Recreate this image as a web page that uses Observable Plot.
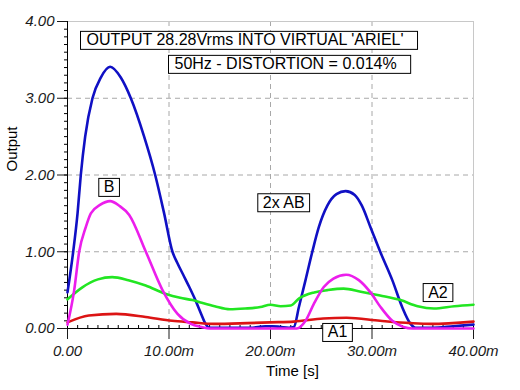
<!DOCTYPE html>
<html>
<head>
<meta charset="utf-8">
<script src="https://cdn.jsdelivr.net/npm/d3@7"></script>
<script src="https://cdn.jsdelivr.net/npm/@observablehq/plot@0.6"></script>
<style>
  html, body { margin: 0; padding: 0; background: white; }
</style>
</head>
<body>
<script>
// ---- data (time in ms, output values) ----
const blueT = [0, 0.56, 0.99, 1.31, 1.74, 2.46, 3.28, 4.2, 5.25, 6.24, 7.55, 8.64, 9.52, 10.34, 10.8, 11.4, 12.0, 12.6, 13.2, 13.6, 14.0, 16, 18, 19.5, 20.2, 21, 21.8, 22.3, 22.8, 23.45, 24.1, 24.76, 25.6, 26.5, 27.4, 28.3, 29.0, 29.85, 30.84, 32.0, 32.97, 33.8, 34.3, 36, 38, 40];
const blueV = [0.47, 1.0, 1.5, 2.0, 2.5, 3.0, 3.27, 3.41, 3.27, 3.0, 2.5, 2.0, 1.5, 1.0, 0.86, 0.70, 0.54, 0.37, 0.18, 0.06, 0.01, 0.01, 0.01, 0.03, 0.03, 0.02, 0.01, 0.02, 0.28, 0.63, 0.99, 1.32, 1.60, 1.75, 1.79, 1.74, 1.60, 1.32, 0.99, 0.63, 0.28, 0.06, 0.01, 0.01, 0.03, 0.05];

const magT = [0, 0.66, 1.15, 1.8, 2.3, 3.2, 4.2, 5.1, 6.08, 7.72, 9.36, 10.84, 12.15, 13.2, 14.0, 22.6, 23.45, 24.27, 25.25, 26.2, 27.45, 28.7, 29.85, 30.84, 32.0, 33.1, 34, 40];
const magV = [0.05, 0.5, 1.0, 1.32, 1.5, 1.61, 1.66, 1.6, 1.48, 1.0, 0.5, 0.19, 0.06, 0.02, 0.0, 0.0, 0.10, 0.32, 0.54, 0.65, 0.70, 0.63, 0.47, 0.28, 0.10, 0.02, 0.0, 0.0];

const greenT = [0, 1.5, 3, 4.4, 6, 7.7, 9.7, 11.1, 12.3, 13.1, 14.5, 16, 17.5, 19, 20, 21, 22, 22.8, 24.3, 25.6, 27.2, 28.9, 30.8, 32.8, 34.5, 36.1, 38.1, 40];
const greenV = [0.38, 0.54, 0.64, 0.67, 0.63, 0.56, 0.45, 0.40, 0.37, 0.34, 0.29, 0.25, 0.26, 0.28, 0.31, 0.29, 0.30, 0.39, 0.47, 0.50, 0.52, 0.48, 0.43, 0.37, 0.29, 0.26, 0.29, 0.31];

const redT = [0, 2.1, 4.8, 7.7, 10.3, 12.3, 14.4, 17.7, 20, 22.3, 25.2, 27.5, 30.8, 33.8, 35.8, 40];
const redV = [0.08, 0.17, 0.19, 0.15, 0.10, 0.08, 0.06, 0.07, 0.08, 0.09, 0.13, 0.14, 0.10, 0.07, 0.06, 0.09];

const labelText = ["B", "2x AB", "A1", "A2"];
const labelT = [4.1, 21.3, 26.6, 36.5];
const labelY = [1.84, 1.64, -0.05, 0.47];

const title1 = "OUTPUT 28.28Vrms INTO VIRTUAL 'ARIEL'";
const title2 = "50Hz - DISTORTION = 0.014%";

const xTicks = [0, 10, 20, 30, 40];
const xTickLabels = ["0.00", "10.00m", "20.00m", "30.00m", "40.00m"];
const xMinor = d3.range(0, 41, 1);
const yTicks = [0, 1, 2, 3, 4];
const yTickLabels = ["0.00", "1.00", "2.00", "3.00", "4.00"];
const yMinor = d3.range(0, 41, 1).map(d => d / 10);
const xGrid = [10, 20, 30];
const yGrid = [1, 2, 3];

const series = [
  {t: blueT, v: blueV, color: "#1010c4"},
  {t: greenT, v: greenV, color: "#22e622"},
  {t: redT, v: redV, color: "#dc1414"},
  {t: magT, v: magV, color: "#ec1eec"}
];

const labels = labelText.map((s, i) => ({s, t: labelT[i], y: labelY[i]}));

const chart = Plot.plot({
  width: 520,
  height: 390,
  marginLeft: 67,
  marginRight: 47,
  marginTop: 21,
  marginBottom: 62,
  x: {domain: [0, 40]},
  y: {domain: [0, 4]},
  style: {fontFamily: "'Liberation Sans', Arial, sans-serif", background: "white", color: "black"},
  marks: [
    Plot.ruleX(xGrid, {stroke: "#a8a8a8", strokeDasharray: "5,4"}),
    Plot.ruleY(yGrid, {stroke: "#a8a8a8", strokeDasharray: "5,4"}),
    Plot.ruleY([4], {stroke: "#c8c8c8"}),
    Plot.ruleX([40], {stroke: "#c8c8c8"}),
    Plot.axisY({ticks: yMinor, tickSize: 3, tickFormat: () => "", label: null, color: "black"}),
    Plot.axisX({ticks: xMinor, tickSize: 3, dy: -3, tickFormat: () => "", label: null, color: "black"}),
    Plot.axisY({ticks: yTicks, tickSize: 10, tickPadding: 3, tickFormat: d => yTickLabels[yTicks.indexOf(d)], label: null, fontSize: 15, fontStyle: "italic", color: "#1a1a1a"}),
    Plot.axisX({ticks: xTicks, tickSize: 11, tickPadding: 6, tickFormat: d => xTickLabels[xTicks.indexOf(d)], label: null, fontSize: 15, fontStyle: "italic", color: "#1a1a1a"}),
    Plot.ruleX([0], {stroke: "black"}),
    Plot.ruleY([0], {stroke: "black"}),
    ...series.map(s => Plot.line(d3.zip(s.t, s.v), {x: d => d[0], y: d => d[1], stroke: s.color, strokeWidth: 2.6, curve: "monotone-x"})),
    Plot.text(labels, {x: "t", y: "y", text: "s", fontSize: 16, fill: "black"}),
    Plot.text([title1], {frameAnchor: "top-left", dx: 19, dy: 12.5, textAnchor: "start", fontSize: 16, fill: "black"}),
    Plot.text([title2], {frameAnchor: "top-left", dx: 107, dy: 36.5, textAnchor: "start", fontSize: 16, fill: "black"}),
    Plot.text(["Output"], {frameAnchor: "left", dx: -55, dy: -3.5, rotate: -90, fontSize: 15, fill: "black"}),
    Plot.text(["Time [s]"], {frameAnchor: "bottom", dx: 22, dy: 47, fontSize: 15, fill: "black"})
  ]
});

document.body.append(chart);

// draw boxes behind annotation texts
const svgNS = "http://www.w3.org/2000/svg";
const textGroups = chart.querySelectorAll('g[aria-label="text"]');
const pads = [[5, 5], [6, 14], [6, 14]];
for (let gi = 0; gi < 3 && gi < textGroups.length; gi++) {
  const g = textGroups[gi];
  const [pl, pr] = pads[gi];
  g.querySelectorAll("text").forEach(el => {
    const b = el.getBBox();
    const r = document.createElementNS(svgNS, "rect");
    r.setAttribute("x", b.x - pl);
    r.setAttribute("y", b.y);
    r.setAttribute("width", b.width + pl + pr);
    r.setAttribute("height", b.height + 1);
    r.setAttribute("fill", "white");
    r.setAttribute("stroke", "black");
    r.setAttribute("stroke-width", "1");
    const tr = el.getAttribute("transform");
    if (tr) r.setAttribute("transform", tr);
    g.insertBefore(r, el);
  });
}
</script>
</body>
</html>
